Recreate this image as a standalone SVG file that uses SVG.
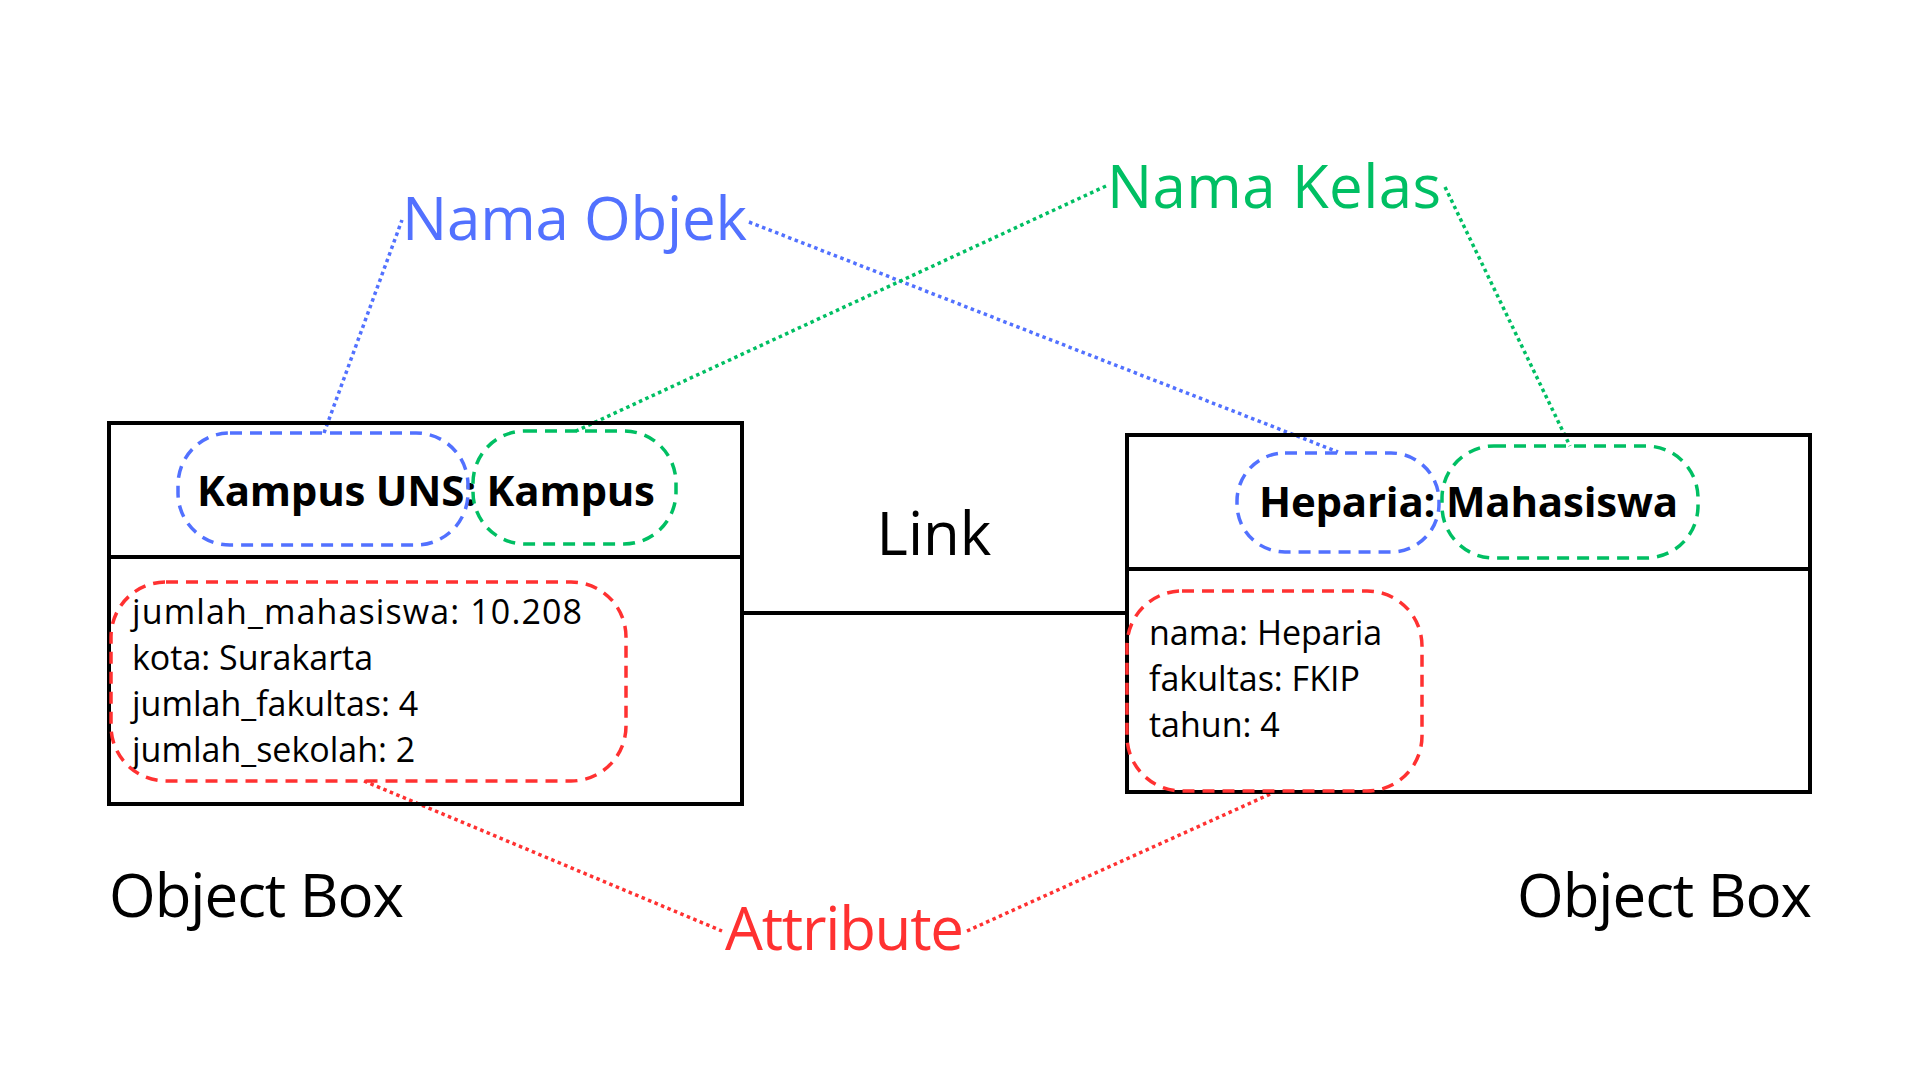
<svg xmlns="http://www.w3.org/2000/svg" width="1920" height="1080" viewBox="0 0 1920 1080">
<style>
.bg{fill:#ffffff}
.box{fill:none;stroke:#000;stroke-width:4}
.div{stroke:#000;stroke-width:4}
.dash{fill:none;stroke-width:3.5;stroke-dasharray:12 8}
.dot{fill:none;stroke-width:3.5;stroke-dasharray:3.5 3.5}
.blue{stroke:#5271ff}
.green{stroke:#00bf63}
.red{stroke:#ff3131}
.t{font-family:"Open Sans","Noto Sans",sans-serif;fill:#000}
.title{font-family:"Open Sans","Noto Sans",sans-serif;font-weight:700;font-size:42px;fill:#000}
.attr{font-size:34px}
.lbl{font-family:"Open Sans","Noto Sans",sans-serif;font-size:60px}
</style>
<rect class="bg" x="0" y="0" width="1920" height="1080"/>
<g id="connectors">
  <line id="link" x1="742" y1="613" x2="1127" y2="613" stroke="#000" stroke-width="4"/>
  <polyline class="dot blue" points="324,433 402,220"/>
  <polyline class="dot blue" points="749,222 1338,452"/>
  <polyline class="dot green" points="1106,186 576,431"/>
  <polyline class="dot green" points="1445,187 1570,446"/>
  <polyline class="dot red" points="364,781 722,931"/>
  <polyline class="dot red" points="967,931 1277,791"/>
</g>
<g id="object-box-kampus">
  <rect class="box" x="109" y="423" width="633" height="381"/>
  <line class="div" x1="109" y1="557" x2="742" y2="557"/>
  <text class="title" x="197" y="506" textLength="458">Kampus UNS: Kampus</text>
  <text class="t attr" x="132" y="624" textLength="450">jumlah_mahasiswa: 10.208</text>
  <text class="t attr" x="132" y="670">kota: Surakarta</text>
  <text class="t attr" x="132" y="716">jumlah_fakultas: 4</text>
  <text class="t attr" x="132" y="762">jumlah_sekolah: 2</text>
</g>
<g id="object-box-heparia">
  <rect class="box" x="1127" y="435" width="683" height="357"/>
  <line class="div" x1="1127" y1="569" x2="1810" y2="569"/>
  <text class="title" x="1259" y="517" textLength="419">Heparia: Mahasiswa</text>
  <text class="t attr" x="1149" y="645" font-size="35">nama: Heparia</text>
  <text class="t attr" x="1149" y="691" font-size="35">fakultas: FKIP</text>
  <text class="t attr" x="1149" y="737" font-size="35">tahun: 4</text>
</g>
<g id="highlight-nama-objek-1"><rect class="dash blue" x="178" y="433" width="290" height="112" rx="52"/></g>
<g id="highlight-nama-kelas-1"><rect class="dash green" x="473" y="431" width="203" height="113" rx="52"/></g>
<g id="highlight-attribute-1"><rect class="dash red" x="111" y="582" width="515" height="199" rx="55"/></g>
<g id="highlight-nama-objek-2"><rect class="dash blue" x="1237" y="453" width="202" height="99" rx="48"/></g>
<g id="highlight-nama-kelas-2"><rect class="dash green" x="1442" y="446" width="256" height="112" rx="52"/></g>
<g id="highlight-attribute-2"><rect class="dash red" x="1127" y="591" width="295" height="200" rx="55"/></g>
<g id="label-link"><text class="lbl" x="934" y="555" fill="#000" font-size="52" text-anchor="middle">Link</text></g>
<g id="label-nama-objek"><text class="lbl" x="402" y="240" fill="#5271ff" textLength="345">Nama Objek</text></g>
<g id="label-nama-kelas"><text class="lbl" x="1107" y="208" fill="#00bf63" textLength="334">Nama Kelas</text></g>
<g id="label-attribute"><text class="lbl" x="725" y="950" fill="#ff3131" textLength="239">Attribute</text></g>
<g id="label-object-box-1"><text class="lbl" x="109" y="917" fill="#000" textLength="295">Object Box</text></g>
<g id="label-object-box-2"><text class="lbl" x="1517" y="917" fill="#000" textLength="295">Object Box</text></g>
</svg>
